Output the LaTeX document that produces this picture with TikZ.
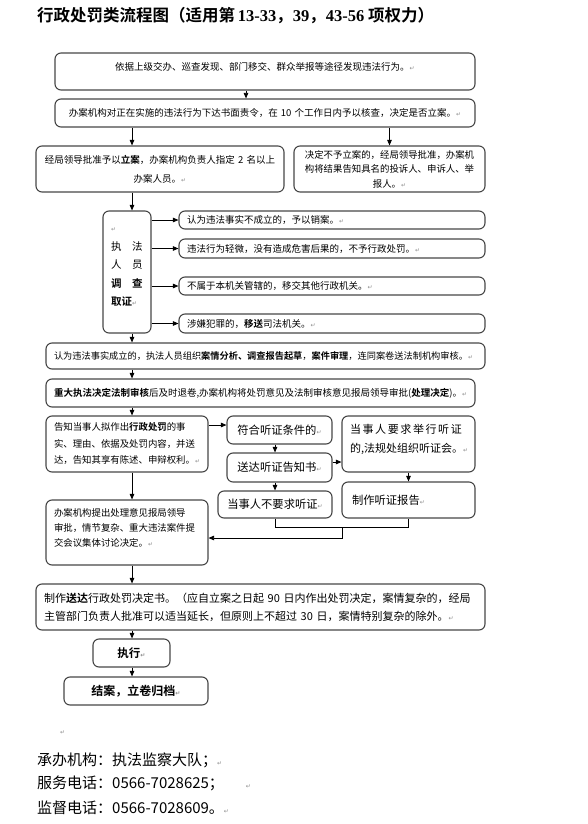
\documentclass[tikz,border=0pt]{standalone}
\usepackage{fontspec}
\setmainfont{Noto Sans CJK SC}[BoldFont={Noto Sans CJK SC Bold}]
\newfontfamily\markfont{DejaVu Sans}
\newfontfamily\titledigits{Liberation Serif}
\usetikzlibrary{arrows.meta}

\definecolor{boxline}{RGB}{70,70,70}
\newcommand\retmark{{\markfont\fontsize{6}{6}\selectfont\color{black!45}↵}}
\newcommand\fs[2]{\fontsize{#1}{#2}\selectfont}
\newcommand\ls{\hspace{1.6pt}}

\begin{document}
\begin{tikzpicture}[
x=1pt, y=-1pt,
block/.style={draw=boxline, line width=1.1pt, rounded corners=6pt, inner xsep=8pt, inner ysep=2pt, align=center},
lblock/.style={block, align=left},
arrow/.style={-{Triangle[length=5.5pt,width=4.5pt]}, line width=0.8pt},
line/.style={line width=0.8pt},
boxtext/.style={font=\fs{9.5}{14}},
heartext/.style={font=\fs{11.3}{17}}
]
\useasboundingbox (0,0) rectangle (588,824);

% -------- Title --------
\node[anchor=west, inner sep=0pt, font=\fs{16.5}{18}\bfseries] (title) at (37,16) {行政处罚类流程图（适用第\,{\titledigits\bfseries 13-33}，{\titledigits\bfseries 39}，{\titledigits\bfseries 43-56} 项权力）};

% -------- Discovery and filing --------
\coordinate (spine) at (132,0);
\coordinate (drop) at (246,0);

\node[block, boxtext, text width=404pt, minimum height=37pt, text depth=11pt] (find) at (265,71.5) {依据上级交办、巡查发现、部门移交、群众举报等途径发现违法行为。\retmark};
\node[block, boxtext, text width=404pt, minimum height=28pt] (order) at (265,113) {办案机构对正在实施的违法行为下达书面责令，在 10 个工作日内予以核查，决定是否立案。\retmark};

\draw[arrow] (find.south -| drop) -- (order.north -| drop);

\node[block, font=\fs{9.5}{19}, text width=232pt, minimum height=46pt] (file) at (160,169) {经局领导批准予以\textbf{立案}，办案机构负责人指定 2 名以上\\办案人员。\retmark};
\node[block, font=\fs{9.4}{14.5}, text width=175pt, minimum height=46pt] (nofile) at (389.5,169) {决定不予立案的，经局领导批准，办案机\\构将结果告知具名的投诉人、申诉人、举\\报人。\retmark};

\draw[arrow] (order.south -| spine) -- (file.north -| spine);
\draw[arrow] (order.south -| nofile.north) -- (nofile.north);

% -------- Investigation --------
\node[lblock, font=\fs{10.5}{18.5}, text width=32pt, minimum height=122pt, text depth=84pt] (probe) at (127,272) {\retmark\\执\quad 法\\人\quad 员\\\textbf{调\quad 查}\\\textbf{取证}\retmark};

\node[lblock, boxtext, text width=290pt, minimum height=18pt] (void) at (332,220) {认为违法事实不成立的，予以销案。\retmark};
\node[lblock, boxtext, text width=290pt, minimum height=19pt] (minor) at (332,248.5) {违法行为轻微，没有造成危害后果的，不予行政处罚。\retmark};
\node[lblock, boxtext, text width=290pt, minimum height=18pt] (transfer) at (332,286) {不属于本机关管辖的，移交其他行政机关。\retmark};
\node[lblock, boxtext, text width=290pt, minimum height=19pt] (crime) at (332,323.5) {涉嫌犯罪的，\textbf{移送}司法机关。\retmark};

\draw[arrow] (file.south -| spine) -- (probe.north -| spine);
\draw[arrow] (probe.east |- void.west) -- (void.west);
\draw[arrow] (probe.east |- minor.west) -- (minor.west);
\draw[arrow] (probe.east |- transfer.west) -- (transfer.west);
\draw[arrow] (probe.east |- crime.west) -- (crime.west);

% -------- Review --------
\node[lblock, font=\fs{9.2}{12}, text width=423pt, minimum height=26pt] (review) at (265.5,356) {认为违法事实成立的，执法人员组织\textbf{案情分析、调查报告起草}，\textbf{案件审理}，连同案卷送法制机构审核。\retmark};
\node[lblock, boxtext, text width=413pt, minimum height=28pt] (legal) at (260.5,393) {\textbf{重大执法决定法制审核}后及时退卷,办案机构将处罚意见及法制审核意见报局领导审批(\textbf{处理决定})。\retmark};

\draw[arrow] (probe.south -| spine) -- (review.north -| spine);
\draw[arrow] (review.south -| spine) -- (legal.north -| spine);

% -------- Notice and hearing --------
\coordinate (rowa) at (0,425);
\coordinate (rowb) at (0,462);
\coordinate (midx) at (275,0);
\coordinate (merge) at (342,527);
\coordinate (rowc) at (0,538);

\node[lblock, font=\fs{9.4}{16.5}, text width=146pt, minimum height=56pt] (notify) at (127,444) {告知当事人拟作出\textbf{行政处罚}的事\\实、理由、依据及处罚内容，并送\\达，告知其享有陈述、申辩权利。\retmark};

\node[block, heartext, text width=89pt, minimum height=28pt] (eligible) at (279.5,430) {符合听证条件的\retmark};
\node[block, heartext, text width=89pt, minimum height=29pt] (serve) at (279.5,467.5) {送达听证告知书\retmark};
\node[lblock, font=\fs{11}{18.5}, text width=117pt, minimum height=56pt, text depth=30pt] (request) at (408.5,444) {当\ls 事\ls 人\ls 要\ls 求\ls 举\ls 行\ls 听\ls 证\\的,法规处组织听证会。\retmark};
\node[lblock, heartext, inner xsep=10pt, text width=113pt, minimum height=36pt] (report) at (408.5,500) {制作听证报告\retmark};
\node[block, heartext, inner xsep=6pt, text width=102pt, minimum height=27pt] (waive) at (275,504.5) {当事人不要求听证\retmark};

\draw[arrow] (legal.south -| spine) -- (notify.north -| spine);
\draw[arrow] (notify.east |- rowa) -- (eligible.west |- rowa);
\draw[arrow] (eligible.south -| midx) -- (serve.north -| midx);
\draw[arrow] (serve.east |- rowb) -- (request.west |- rowb);
\draw[arrow] (request.south) -- (report.north);
\draw[arrow] (serve.south -| waive.north) -- (waive.north);

% -------- Decision --------
\node[lblock, font=\fs{9.4}{15}, text width=146pt, minimum height=65pt, text depth=40.5pt] (decide) at (127,532.5) {办案机构提出处理意见报局领导\\审批，情节复杂、重大违法案件提\\交会议集体讨论决定。\retmark};

\draw[line] (waive.south) |- (report.south |- merge) -- (report.south);
\draw[arrow] (merge) |- (decide.east |- rowc);
\draw[arrow] (notify.south -| spine) -- (decide.north -| spine);

\node[lblock, font=\fs{11}{18}, text width=433pt, minimum height=46pt] (notice) at (260.5,607) {制作\textbf{送达}行政处罚决定书。（应自立案之日起 90 日内作出处罚决定，案情复杂的，经局\\主管部门负责人批准可以适当延长，但原则上不超过 30 日，案情特别复杂的除外。\retmark};
\node[block, font=\fs{11.5}{14}\bfseries, text width=61pt, minimum height=28pt] (exec) at (131.5,653) {执行\retmark};
\node[block, font=\fs{12}{14}\bfseries, text width=128pt, minimum height=28pt] (close) at (136,691) {结案，立卷归档\retmark};

\draw[arrow] (decide.south -| spine) -- (notice.north -| spine);
\draw[arrow] (notice.south -| spine) -- (exec.north -| spine);
\draw[arrow] (exec.south -| spine) -- (close.north -| spine);

% -------- Contacts --------
\node[anchor=west, inner sep=0pt] (gap) at (60,733) {\retmark};
\node[anchor=west, inner sep=0pt, font=\fs{15}{18}] (org) at (37,760) {承办机构：执法监察大队；\retmark};
\node[anchor=west, inner sep=0pt, font=\fs{15}{18}] (tel) at (37,783) {服务电话：0566-7028625；\hspace{22pt}\retmark};
\node[anchor=west, inner sep=0pt, font=\fs{15}{18}] (sup) at (37,808) {监督电话：0566-7028609。\retmark};

\end{tikzpicture}
\end{document}
